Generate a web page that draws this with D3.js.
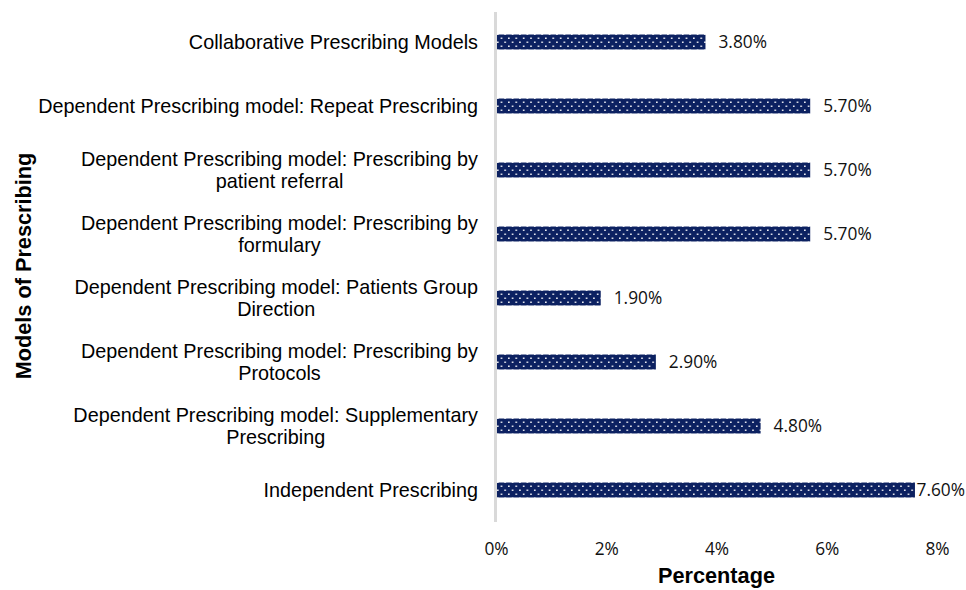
<!DOCTYPE html>
<html>
<head>
<meta charset="utf-8">
<script src="https://cdn.jsdelivr.net/npm/d3@7"></script>
<style>
  html, body { margin: 0; padding: 0; background: #fff; }
  svg { display: block; }
</style>
</head>
<body>
<svg id="chart" width="966" height="590"></svg>
<script>
const categories = [
  "Collaborative Prescribing Models",
  "Dependent Prescribing model: Repeat Prescribing",
  "Dependent Prescribing model: Prescribing by\npatient referral",
  "Dependent Prescribing model: Prescribing by\nformulary",
  "Dependent Prescribing model: Patients Group\nDirection",
  "Dependent Prescribing model: Prescribing by\nProtocols",
  "Dependent Prescribing model: Supplementary\nPrescribing",
  "Independent Prescribing"
];
const values = [3.8, 5.7, 5.7, 5.7, 1.9, 2.9, 4.8, 7.6];
const xTicks = [0, 2, 4, 6, 8];
const xTitle = "Percentage";
const yTitle = "Models of Prescribing";

const W = 966, H = 590;
const svg = d3.select("#chart");

const x = d3.scaleLinear().domain([0, 8]).range([496, 937]);
const y = d3.scaleBand().domain(categories).range([10, 522])
  .paddingInner(0.766).paddingOuter(0.383);

// pattern
const defs = svg.append("defs");
const pat = defs.append("pattern")
  .attr("id", "dots").attr("patternUnits", "userSpaceOnUse")
  .attr("width", 7.4).attr("height", 8)
  .attr("x", 496).attr("y", 0);
pat.append("rect").attr("width", 7.4).attr("height", 8).attr("fill", "#0c2161");
pat.append("rect").attr("x", 1).attr("y", 1.5).attr("width", 1.5).attr("height", 1.5).attr("fill", "#ffffff");
pat.append("rect").attr("x", 4.7).attr("y", 5.5).attr("width", 1.5).attr("height", 1.5).attr("fill", "#ffffff");

// bars
svg.append("g").selectAll("rect").data(values).join("rect")
  .attr("x", x(0))
  .attr("y", (d, i) => y(categories[i]))
  .attr("width", d => x(d) - x(0))
  .attr("height", y.bandwidth())
  .attr("fill", "url(#dots)");

// vertical axis line
svg.append("line")
  .attr("x1", x(0) - 0.5).attr("x2", x(0) - 0.5)
  .attr("y1", 12).attr("y2", 522)
  .attr("stroke", "#d9d9d9").attr("stroke-width", 3);

// data labels
const dl = svg.append("g").selectAll("text").data(values).join("text")
  .attr("font-family", "'Open Sans', sans-serif")
  .attr("font-size", 17.3)
  .attr("fill", "#111")
  .attr("y", (d, i) => y(categories[i]) + y.bandwidth() / 2 + 6)
  .text(d => d.toFixed(2) + "%");
dl.each(function(d) {
  const w = this.getComputedTextLength();
  let px = x(d) + 13;
  if (px + w > W - 1) px = W - 1 - w;
  d3.select(this).attr("x", px);
});

// x axis tick labels
const xAxis = d3.axisBottom(x).tickValues(xTicks).tickFormat(d => d + "%")
  .tickSize(0).tickPadding(21);
const gx = svg.append("g").attr("transform", "translate(0,522)").call(xAxis);
gx.select(".domain").remove();
gx.selectAll("text")
  .attr("font-family", "'Open Sans', sans-serif")
  .attr("font-size", 17.3)
  .attr("fill", "#111");

// category labels
const lineH = 22.6;
const catG = svg.append("g")
  .attr("font-family", "'Liberation Sans', Arial, sans-serif")
  .attr("font-size", 19.8)
  .attr("fill", "#000");
categories.forEach(c => {
  const lines = c.split("\n");
  const yc = y(c) + y.bandwidth() / 2;
  const t = catG.append("text").attr("text-anchor", "middle");
  const spans = lines.map((ln, i) => t.append("tspan")
    .attr("y", yc + (i - (lines.length - 1) / 2) * lineH + 7)
    .text(ln));
  const maxW = d3.max(spans, s => s.node().getComputedTextLength());
  const cx = 478 - maxW / 2;
  spans.forEach(s => s.attr("x", cx));
});

// axis titles
svg.append("text")
  .attr("x", (x(0) + x(8)) / 2).attr("y", 583)
  .attr("text-anchor", "middle")
  .attr("font-family", "'Liberation Sans', Arial, sans-serif")
  .attr("font-weight", "bold").attr("font-size", 21.7)
  .attr("fill", "#000")
  .text(xTitle);

svg.append("text")
  .attr("transform", "translate(31,266) rotate(-90)")
  .attr("text-anchor", "middle")
  .attr("font-family", "'Liberation Sans', Arial, sans-serif")
  .attr("font-weight", "bold").attr("font-size", 21.7)
  .attr("fill", "#000")
  .text(yTitle);
</script>
</body>
</html>
